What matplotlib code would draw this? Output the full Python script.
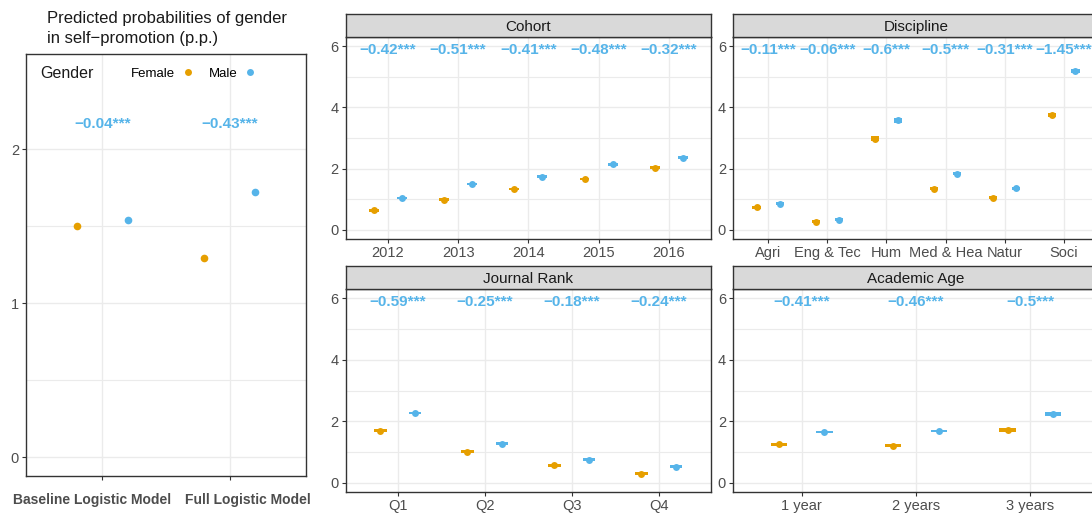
import matplotlib
matplotlib.use('Agg')
import matplotlib.pyplot as plt
import matplotlib.transforms as mtransforms
from matplotlib.lines import Line2D

plt.rcParams['font.family'] = ['Liberation Sans', 'DejaVu Sans']

# model-level predicted probabilities (p.p.)
models = ['Baseline Logistic Model', 'Full Logistic Model']
model_female = [1.50, 1.29]
model_male = [1.54, 1.72]
model_diff = [-0.04, -0.43]

# by cohort
cohort = ['2012', '2013', '2014', '2015', '2016']
cohort_female = [0.64, 0.98, 1.33, 1.66, 2.03]
cohort_male = [1.04, 1.50, 1.74, 2.14, 2.36]
cohort_ci = [0.02, 0.02, 0.02, 0.02, 0.02]
cohort_diff = [-0.42, -0.51, -0.41, -0.48, -0.32]

# by discipline
discipline = ['Agri', 'Eng & Tec', 'Hum', 'Med & Hea', 'Natur', 'Soci']
disc_female = [0.74, 0.27, 2.98, 1.35, 1.05, 3.74]
disc_male = [0.85, 0.33, 3.58, 1.84, 1.36, 5.18]
disc_ci = [0.02, 0.02, 0.05, 0.02, 0.02, 0.04]
disc_diff = [-0.11, -0.06, -0.6, -0.5, -0.31, -1.45]

# by journal rank
rank = ['Q1', 'Q2', 'Q3', 'Q4']
rank_female = [1.69, 1.01, 0.57, 0.29]
rank_male = [2.27, 1.27, 0.75, 0.52]
rank_ci = [0.02, 0.02, 0.02, 0.02]
rank_diff = [-0.59, -0.25, -0.18, -0.24]

# by academic age
age = ['1 year', '2 years', '3 years']
age_female = [1.25, 1.21, 1.72]
age_male = [1.65, 1.68, 2.23]
age_ci = [0.02, 0.02, 0.03]
age_diff = [-0.41, -0.46, -0.5]

FEMALE = '#E69F00'
MALE = '#56B4E9'
GRID = '#EBEBEB'
AXIS = '#333333'
TICK = '#4D4D4D'

W, H = 1092, 514
fig = plt.figure(figsize=(W / 100, H / 100), dpi=100)


def px_axes(x0, y0, x1, y1, **kw):
    # axes from pixel box (top-left origin)
    return fig.add_axes([x0 / W, 1 - y1 / H, (x1 - x0) / W, (y1 - y0) / H], **kw)


def fmt(v):
    return f'{v:g}'.replace('-', '\u2212') + '***'


def style(ax):
    for s in ax.spines.values():
        s.set_color(AXIS)
        s.set_linewidth(1.0)
    ax.set_axisbelow(True)
    ax.grid(which='major', color=GRID, lw=1.0)
    ax.grid(which='minor', axis='y', color=GRID, lw=0.8)
    ax.tick_params(which='major', color=AXIS, length=3, width=0.8,
                   labelcolor=TICK, labelsize=10.5, pad=2)
    ax.tick_params(which='minor', length=0)


def facet(box, strip_title, cats, female, male, ci, diff):
    x0, y0, x1, y1 = box
    ax = px_axes(x0, y0 + 23, x1, y1)
    strip = px_axes(x0, y0, x1, y0 + 23, facecolor='#D9D9D9')
    strip.set_xticks([])
    strip.set_yticks([])
    for s in strip.spines.values():
        s.set_color(AXIS)
        s.set_linewidth(1.0)
    strip.text(0.5, 0.45, strip_title, ha='center', va='center',
               fontsize=11, color='#1A1A1A', transform=strip.transAxes)

    style(ax)
    pos = list(range(1, len(cats) + 1))
    w = 0.07
    for vals, off, col in ((female, -0.2, FEMALE), (male, 0.2, MALE)):
        xs = [p + off for p in pos]
        for x, y, e in zip(xs, vals, ci):
            ax.fill_between([x - w, x + w], y - e - 0.025, y + e + 0.025,
                            color=col, lw=0)
        ax.plot(xs, vals, 'o', color=col, ms=5, mec='none')
    for p, d in zip(pos, diff):
        ax.text(p, 5.87, fmt(d), ha='center', va='center', color=MALE,
                fontsize=11, fontweight='bold')
    ax.set_xlim(0.4, len(cats) + 0.6)
    ax.set_ylim(-0.3, 6.3)
    ax.set_xticks(pos)
    ax.set_xticklabels(cats)
    ax.set_yticks([0, 2, 4, 6])
    ax.set_yticks([1, 3, 5], minor=True)
    return ax


# left panel: overall model estimates
axl = px_axes(26, 54, 306, 476)
style(axl)
pos = [1, 2]
axl.plot([p - 0.2 for p in pos], model_female, 'o', color=FEMALE, ms=5.5,
         mec='none', label='Female')
axl.plot([p + 0.2 for p in pos], model_male, 'o', color=MALE, ms=5.5,
         mec='none', label='Male')
for p, d in zip(pos, model_diff):
    axl.text(p, 2.16, fmt(d), ha='center', va='center', color=MALE,
             fontsize=11, fontweight='bold')
axl.set_xlim(0.4, 2.6)
axl.set_ylim(-0.123, 2.617)
axl.set_xticks(pos)
axl.set_xticklabels(models, fontweight='bold', fontsize=10)
axl.tick_params(axis='x', pad=9)
axl.set_yticks([0, 1, 2])
axl.set_yticks([0.5, 1.5], minor=True)
shifts = [-10, 18]
for lab, dx in zip(axl.get_xticklabels(), shifts):
    lab.set_transform(lab.get_transform() +
                      mtransforms.ScaledTranslation(dx / 100, 0, fig.dpi_scale_trans))

fig.text(47 / W, 1 - 11 / H,
         'Predicted probabilities of gender\nin self\u2212promotion (p.p.)',
         ha='left', va='top', fontsize=12, linespacing=1.45, color='#1A1A1A')

# legend inside the left panel
fig.text(40 / W, 1 - 74 / H, 'Gender', ha='left', va='center', fontsize=11.5,
         color='#1A1A1A')
handles = [Line2D([], [], ls='none', marker='o', color=FEMALE, ms=5, mec='none'),
           Line2D([], [], ls='none', marker='o', color=MALE, ms=5, mec='none')]
fig.legend(handles, ['Female', 'Male'], loc='center left', ncol=2,
           bbox_to_anchor=(119 / W, 1 - 74 / H), frameon=False,
           markerfirst=False, fontsize=9.5, handlelength=1.0,
           handletextpad=0.45, columnspacing=1.1)

facet((345.7, 14, 711, 239), 'Cohort', cohort, cohort_female, cohort_male,
      cohort_ci, cohort_diff)
facet((733, 14, 1099, 239), 'Discipline', discipline, disc_female, disc_male,
      disc_ci, disc_diff)
facet((345.7, 266, 711, 492), 'Journal Rank', rank, rank_female, rank_male,
      rank_ci, rank_diff)
facet((733, 266, 1099, 492), 'Academic Age', age, age_female, age_male,
      age_ci, age_diff)

fig.savefig('out.png', dpi=100, facecolor='white')
